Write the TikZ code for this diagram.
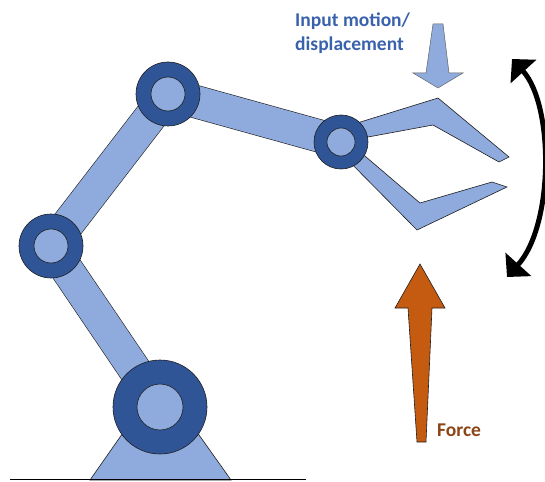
\documentclass[tikz,border=0pt]{standalone}
\usepackage{fontspec}
\setmainfont{Carlito}
\usetikzlibrary{arrows.meta,calc}
\definecolor{linkblue}{HTML}{8FAADC}
\definecolor{jointblue}{HTML}{2F5597}
\definecolor{edgegray}{HTML}{1E1E1E}
\definecolor{forceorange}{HTML}{C55A11}
\definecolor{forcetext}{HTML}{8C4516}
\definecolor{inputtext}{HTML}{3A62AC}
\begin{document}
\begin{tikzpicture}[x=1pt,y=-1pt,
  link/.style={draw=edgegray, line width=0.6pt, double=linkblue, double distance=32pt},
  part/.style={fill=linkblue, draw=edgegray, line width=0.6pt, line join=miter},
  ring/.style={circle, fill=jointblue, draw=edgegray, line width=0.6pt, inner sep=0pt},
  pin/.style={circle, fill=linkblue, draw=edgegray, line width=0.6pt, inner sep=0pt},
  caption/.style={font=\bfseries\fontsize{19.5}{23}\selectfont, anchor=base west, inner sep=0pt}]
\useasboundingbox (0,0) rectangle (545,481);

% joint centres
\coordinate (cBase)  at (160,407);
\coordinate (cElbow) at (51,246);
\coordinate (cShoulder) at (168,94);
\coordinate (cWrist) at (341,142);

% ground and pedestal
\coordinate (gL) at (10,479.5);
\coordinate (gR) at (306,479.5);
\draw[part] (90,480) -- (160,380) -- (231,480) -- cycle;
\draw[line width=1.5pt, black] (gL) -- (gR);

% arm links
\draw[link] (cBase) -- (cElbow);
\draw[link] (cElbow) -- (cShoulder);
\draw[link] (cShoulder) -- (cWrist);

% gripper jaws
\draw[part] (341,128) -- (438,98) -- (509,157) -- (499,162) -- (433,125) -- (341,142) -- cycle;
\draw[part] (333,145) -- (345,139) -- (420,203) -- (492,182) -- (507,187) -- (417,230) -- cycle;

% joints
\node[ring, minimum size=94pt] (jBase) at (cBase) {};
\node[pin,  minimum size=46pt] (pBase) at (cBase) {};
\node[ring, minimum size=64pt] (jElbow) at (cElbow) {};
\node[pin,  minimum size=34pt] (pElbow) at (cElbow) {};
\node[ring, minimum size=64pt] (jShoulder) at (cShoulder) {};
\node[pin,  minimum size=34pt] (pShoulder) at (cShoulder) {};
\node[ring, minimum size=54pt] (jWrist) at (cWrist) {};
\node[pin,  minimum size=28pt] (pWrist) at (cWrist) {};

% input displacement arrow
\draw[fill=linkblue, draw=edgegray!70, line width=0.5pt, line join=miter]
  (433,24) -- (443,24) -- (449,73) -- (463,73) -- (438,88) -- (413,73) -- (426,73) -- cycle;
\node[caption, text=inputtext] (inA) at (295,27) {Input motion/};
\node[caption, text=inputtext] (inB) at (295,50.5) {displacement};

% force arrow
\draw[fill=forceorange, draw=edgegray, line width=0.6pt, line join=miter]
  (417,442) -- (426,442) -- (432,308) -- (445,308) -- (420,264) -- (395,308) -- (408,308) -- cycle;
\node[caption, text=forcetext] (force) at (437,436) {Force};

% rotation arrow
\coordinate (rotTop) at (512,59);
\coordinate (rotBot) at (507,277);
\draw[line width=5pt, black,
  {Triangle[length=17pt,width=34pt]}-{Triangle[length=17pt,width=34pt]}]
  (rotTop) .. controls (554,105) and (554,225) .. (rotBot);
\end{tikzpicture}
\end{document}
